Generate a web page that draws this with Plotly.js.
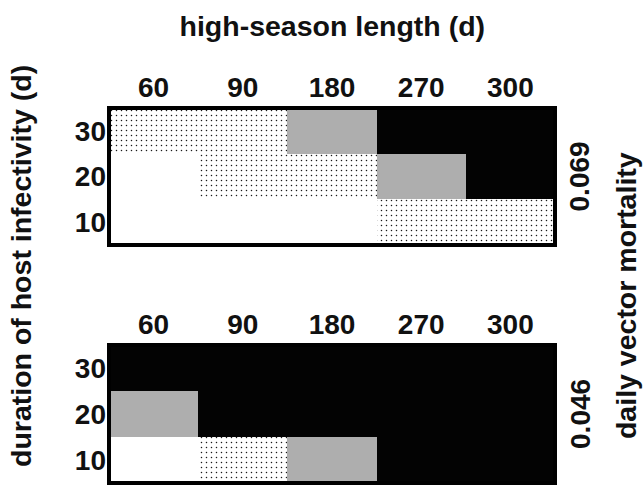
<!DOCTYPE html>
<html>
<head>
<meta charset="utf-8">
<script src="https://cdn.plot.ly/plotly-3.0.1.min.js"></script>
<style>html,body{margin:0;padding:0;background:#fff;}#chart{width:644px;height:489px;}</style>
</head>
<body>
<div id="chart"></div>
<script>
// high-season length (d) columns
var seasonLengths = ['60', '90', '180', '270', '300'];
// duration of host infectivity (d) rows, bottom to top
var infectivityRows = ['10', '20', '30'];
// daily vector mortality per panel
var mortalityLabels = ['0.069', '0.046'];
// cell classes: 0 = white, 1 = dotted, 2 = gray, 3 = black ; rows listed bottom (10) to top (30)
var panelTop = [
  [0, 0, 0, 1, 1],   // 10
  [0, 1, 1, 2, 3],   // 20
  [1, 1, 2, 3, 3]    // 30
];
var panelBottom = [
  [0, 1, 2, 3, 3],   // 10
  [2, 3, 3, 3, 3],   // 20
  [3, 3, 3, 3, 3]    // 30
];

var classStyles = [
  {color: '#ffffff'},
  {color: '#ffffff', pattern: {shape: '.', bgcolor: '#ffffff', fgcolor: '#1a1a1a', size: 5, solidity: 0.075}},
  {color: '#aeaeae'},
  {color: '#030303'}
];

var FONT = 'Liberation Sans, Arial, Helvetica, sans-serif';
var traces = [];
function addPanel(grid, xa, ya) {
  for (var c = 0; c < classStyles.length; c++) {
    var xs = [], bases = [], ys = [];
    for (var r = 0; r < grid.length; r++) {
      for (var k = 0; k < grid[r].length; k++) {
        if (grid[r][k] === c) { xs.push(seasonLengths[k]); bases.push(r); ys.push(1); }
      }
    }
    if (!xs.length) continue;
    var m = {color: classStyles[c].color, line: {width: 0}};
    if (classStyles[c].pattern) m.pattern = classStyles[c].pattern;
    traces.push({type: 'bar', x: xs, y: ys, base: bases, width: 1, marker: m,
      xaxis: xa, yaxis: ya, showlegend: false, hoverinfo: 'skip'});
  }
}
addPanel(panelTop, 'x', 'y');
addPanel(panelBottom, 'x2', 'y2');

var tickFont = {family: FONT, size: 28, color: '#111', weight: 'bold'};
var textFont = {family: FONT, size: 28.5, color: '#111', weight: 'bold'};
function xAxis(domainAnchor) {
  return {type: 'category', categoryorder: 'array', categoryarray: seasonLengths,
    side: 'top', anchor: domainAnchor, range: [-0.5, 4.5], showgrid: false, zeroline: false,
    showline: false, ticks: '', ticklabelstandoff: 4, tickfont: tickFont, fixedrange: true};
}
function yAxis(dom, anchor) {
  return {domain: dom, anchor: anchor, range: [0, 3], tickvals: [0.5, 1.5, 2.5], ticktext: infectivityRows,
    showgrid: false, zeroline: false, showline: false,
    ticks: '', ticklabelstandoff: 2, tickfont: tickFont, fixedrange: true};
}
function frame(xa, ya) {
  return {type: 'rect', xref: xa + ' domain', yref: ya + ' domain', x0: 0, x1: 1, y0: 0, y1: 1,
    line: {color: '#000', width: 4}, fillcolor: 'rgba(0,0,0,0)', layer: 'above'};
}

var layout = {
  width: 644, height: 489,
  margin: {l: 109, r: 89, t: 108, b: 6},
  paper_bgcolor: '#ffffff', plot_bgcolor: '#ffffff',
  barmode: 'overlay', bargap: 0,
  title: {text: 'high-season length (d)', x: 0.516, xanchor: 'center', y: 0.947, yanchor: 'middle',
    font: textFont},
  xaxis: xAxis('y'),
  yaxis: yAxis([0.6347, 1], 'x'),
  xaxis2: xAxis('y2'),
  yaxis2: yAxis([0, 0.368], 'x2'),
  shapes: [frame('x', 'y'), frame('x2', 'y2')],
  annotations: [
    {text: mortalityLabels[0], xref: 'paper', yref: 'y', x: 1.056, y: 1.5, textangle: -90,
      xanchor: 'center', yanchor: 'middle', showarrow: false, font: tickFont},
    {text: mortalityLabels[1], xref: 'paper', yref: 'y2', x: 1.056, y: 1.5, textangle: -90,
      xanchor: 'center', yanchor: 'middle', showarrow: false, font: tickFont},
    {text: 'daily vector mortality', xref: 'paper', yref: 'paper', x: 1.159, y: 0.501, textangle: -90,
      xanchor: 'center', yanchor: 'middle', showarrow: false, font: textFont},
    {text: 'duration of host infectivity (d)', xref: 'paper', yref: 'paper', x: -0.197, y: 0.579, textangle: -90,
      xanchor: 'center', yanchor: 'middle', showarrow: false, font: textFont}
  ]
};

Plotly.newPlot('chart', traces, layout, {staticPlot: true, displayModeBar: false});
</script>
</body>
</html>
